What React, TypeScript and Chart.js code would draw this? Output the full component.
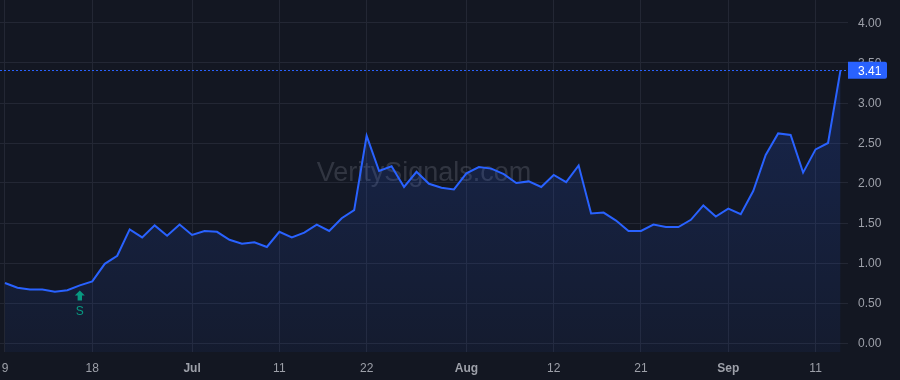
import React, { useEffect, useRef } from "react";
import { Chart, registerables } from "chart.js";

Chart.register(...registerables);

// Trading days (categories)
const dates: string[] = [
  "2025-06-09", "2025-06-10", "2025-06-11", "2025-06-12", "2025-06-13",
  "2025-06-16", "2025-06-17", "2025-06-18", "2025-06-20", "2025-06-23",
  "2025-06-24", "2025-06-25", "2025-06-26", "2025-06-27", "2025-06-30",
  "2025-07-01", "2025-07-02", "2025-07-03", "2025-07-07", "2025-07-08",
  "2025-07-09", "2025-07-10", "2025-07-11", "2025-07-14", "2025-07-15",
  "2025-07-16", "2025-07-17", "2025-07-18", "2025-07-21", "2025-07-22",
  "2025-07-23", "2025-07-24", "2025-07-25", "2025-07-28", "2025-07-29",
  "2025-07-30", "2025-07-31", "2025-08-01", "2025-08-04", "2025-08-05",
  "2025-08-06", "2025-08-07", "2025-08-08", "2025-08-11", "2025-08-12",
  "2025-08-13", "2025-08-14", "2025-08-15", "2025-08-18", "2025-08-19",
  "2025-08-20", "2025-08-21", "2025-08-22", "2025-08-25", "2025-08-26",
  "2025-08-27", "2025-08-28", "2025-08-29", "2025-09-02", "2025-09-03",
  "2025-09-04", "2025-09-05", "2025-09-08", "2025-09-09", "2025-09-10",
  "2025-09-11", "2025-09-12", "2025-09-15",
];

const values: number[] = [
  0.75, 0.69, 0.67, 0.67, 0.64, 0.66, 0.72, 0.77, 0.99, 1.09,
  1.42, 1.32, 1.47, 1.34, 1.48, 1.35, 1.40, 1.39, 1.29, 1.24,
  1.26, 1.20, 1.39, 1.32, 1.38, 1.48, 1.40, 1.56, 1.66, 2.59,
  2.15, 2.21, 1.95, 2.14, 1.99, 1.94, 1.92, 2.12, 2.20, 2.18,
  2.11, 2.00, 2.02, 1.95, 2.10, 2.01, 2.22, 1.62, 1.63, 1.53,
  1.40, 1.40, 1.48, 1.45, 1.45, 1.54, 1.72, 1.58, 1.68, 1.61,
  1.90, 2.35, 2.62, 2.60, 2.13, 2.42, 2.50, 3.41,
];

const tickDates: string[] = [
  "2025-06-09", "2025-06-18", "2025-07-01", "2025-07-11", "2025-07-22",
  "2025-08-01", "2025-08-12", "2025-08-21", "2025-09-02", "2025-09-11",
];
const tickLabels: string[] = ["9", "18", "Jul", "11", "22", "Aug", "12", "21", "Sep", "11"];
const monthLabels: string[] = ["Jul", "Aug", "Sep"];

const yTicks: number[] = [0, 0.5, 1, 1.5, 2, 2.5, 3, 3.5, 4];

const signalDate = "2025-06-17";
const signalText = "S";
const watermarkText = "VeritySignals.com";

const BG = "#131722";
const GRID = "#232734";
const TEXT = "#9da0a9";
const BLUE = "#2962ff";
const GREEN = "#089981";
const FONT = "'Liberation Sans', Arial, sans-serif";

export default function App() {
  const ref = useRef<HTMLCanvasElement | null>(null);

  useEffect(() => {
    document.body.style.margin = "0";
    document.body.style.background = BG;
    const canvas = ref.current;
    if (!canvas) return;

    const points = values.map((v, i) => ({ x: i, y: v }));
    const tickIdx = tickDates.map((d) => dates.indexOf(d));
    const lastIndex = values.length - 1;
    const lastValue = values[lastIndex];
    const signalIndex = dates.indexOf(signalDate);

    const bgPlugin = {
      id: "bg",
      beforeDraw(chart: any) {
        const c = chart.ctx;
        c.save();
        c.fillStyle = BG;
        c.fillRect(0, 0, chart.width, chart.height);
        c.restore();
      },
      beforeDatasetsDraw(chart: any) {
        const c = chart.ctx;
        const a = chart.chartArea;
        c.save();
        c.font = `27px ${FONT}`;
        c.fillStyle = "rgba(160,165,178,0.22)";
        c.textAlign = "center";
        c.textBaseline = "alphabetic";
        c.fillText(watermarkText, (a.left + a.right) / 2, 181);
        c.restore();
      },
      afterDatasetsDraw(chart: any) {
        const c = chart.ctx;
        const a = chart.chartArea;
        const xs = chart.scales.x;
        const ys = chart.scales.y;
        const ly = Math.round(ys.getPixelForValue(lastValue)) + 0.5;
        c.save();
        c.strokeStyle = BLUE;
        c.lineWidth = 1;
        c.setLineDash([2, 2]);
        c.beginPath();
        c.moveTo(a.left, ly);
        c.lineTo(a.right, ly);
        c.stroke();
        c.restore();

        // signal marker
        const sx = xs.getPixelForValue(signalIndex);
        const sy = ys.getPixelForValue(values[signalIndex]);
        const top = sy + 5;
        c.save();
        c.fillStyle = GREEN;
        c.beginPath();
        c.moveTo(sx, top);
        c.lineTo(sx + 5, top + 5);
        c.lineTo(sx + 2.2, top + 5);
        c.lineTo(sx + 2.2, top + 10);
        c.lineTo(sx - 2.2, top + 10);
        c.lineTo(sx - 2.2, top + 5);
        c.lineTo(sx - 5, top + 5);
        c.closePath();
        c.fill();
        c.font = `12px ${FONT}`;
        c.textAlign = "center";
        c.textBaseline = "middle";
        c.fillText(signalText, sx, top + 21);
        c.restore();
      },
      afterDraw(chart: any) {
        const c = chart.ctx;
        const a = chart.chartArea;
        const ys = chart.scales.y;
        const ly = ys.getPixelForValue(lastValue);
        c.save();
        c.fillStyle = BLUE;
        const bx = a.right;
        const bw = 39;
        const bh = 17;
        const by = ly - bh / 2;
        c.beginPath();
        c.moveTo(bx, by);
        c.lineTo(bx + bw - 2, by);
        c.quadraticCurveTo(bx + bw, by, bx + bw, by + 2);
        c.lineTo(bx + bw, by + bh - 2);
        c.quadraticCurveTo(bx + bw, by + bh, bx + bw - 2, by + bh);
        c.lineTo(bx, by + bh);
        c.closePath();
        c.fill();
        c.fillStyle = "#ffffff";
        c.font = `12px ${FONT}`;
        c.textAlign = "left";
        c.textBaseline = "middle";
        c.fillText(lastValue.toFixed(2), a.right + 10, ly + 1);
        c.restore();
      },
    };

    const chart = new Chart(canvas, {
      type: "line",
      data: {
        datasets: [
          {
            data: points,
            borderColor: BLUE,
            borderWidth: 2,
            pointRadius: 0,
            tension: 0,
            fill: "start",
            backgroundColor: (ctx: any) => {
              const area = ctx.chart.chartArea;
              if (!area) return "rgba(41,98,255,0.12)";
              const g = ctx.chart.ctx.createLinearGradient(0, area.top + 60, 0, area.bottom);
              g.addColorStop(0, "rgba(41,98,255,0.2)");
              g.addColorStop(1, "rgba(41,98,255,0.06)");
              return g;
            },
          },
        ],
      },
      options: {
        animation: false,
        responsive: false,
        devicePixelRatio: 1,
        layout: { padding: 0 },
        plugins: {
          legend: { display: false },
          tooltip: { enabled: false },
        },
        scales: {
          x: {
            type: "linear",
            min: -0.4,
            max: 67.6,
            border: { display: false },
            grid: { color: GRID, drawTicks: false, lineWidth: 1 },
            afterBuildTicks: (scale: any) => {
              scale.ticks = tickIdx.map((v) => ({ value: v }));
            },
            afterFit: (scale: any) => {
              scale.height = 28;
              scale.paddingLeft = 0;
              scale.paddingRight = 0;
            },
            ticks: {
              padding: 9,
              maxRotation: 0,
              autoSkip: false,
              color: TEXT,
              font: (ctx: any) => {
                const lbl = tickLabels[ctx.index];
                return { family: FONT, size: 12, weight: monthLabels.includes(lbl) ? "bold" : "normal" };
              },
              callback: (_v: any, i: number) => tickLabels[i],
            },
          },
          y: {
            type: "linear",
            position: "right",
            min: -0.1125,
            max: 4.2875,
            border: { display: false },
            grid: { color: GRID, drawTicks: false, lineWidth: 1 },
            afterBuildTicks: (scale: any) => {
              scale.ticks = yTicks.map((v) => ({ value: v }));
            },
            afterFit: (scale: any) => {
              scale.width = 52;
              scale.paddingTop = 0;
              scale.paddingBottom = 0;
            },
            ticks: {
              padding: 10,
              labelOffset: 1,
              color: TEXT,
              font: { family: FONT, size: 12 },
              callback: (v: any) => Number(v).toFixed(2),
            },
          },
        },
      },
      plugins: [bgPlugin],
    } as any);

    return () => chart.destroy();
  }, []);

  return (
    <div style={{ position: "absolute", left: 0, top: 0, width: 900, height: 380, background: BG }}>
      <canvas ref={ref} width={900} height={380} style={{ display: "block", width: 900, height: 380 }} />
    </div>
  );
}
